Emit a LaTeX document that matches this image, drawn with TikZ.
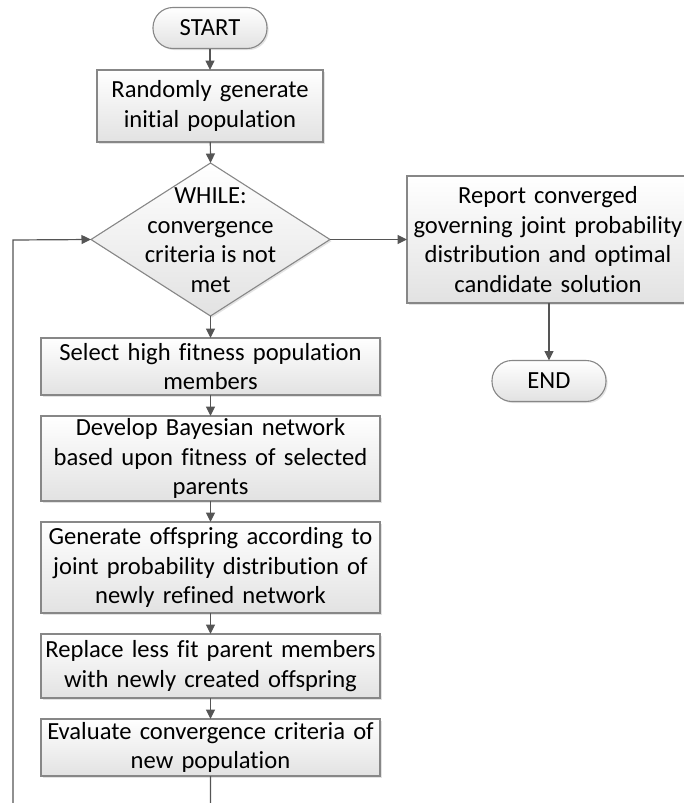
\documentclass[tikz,border=0pt]{standalone}
\usepackage{fontspec}
\setmainfont{Carlito}[Ligatures=NoCommon]
\usetikzlibrary{arrows.meta,shapes.geometric,shadows}
\definecolor{edgegray}{RGB}{135,135,135}
\definecolor{linegray}{RGB}{85,85,85}
\definecolor{boxbottom}{RGB}{226,226,226}
\begin{document}
\begin{tikzpicture}[x=1pt,y=-1pt,
  font=\fontsize{24.6}{29.5}\selectfont,
  every node/.style={outer sep=0pt},
  boxbase/.style={draw=edgegray, line width=1.1pt, top color=white, bottom color=boxbottom,
    drop shadow={shadow xshift=1.6pt, shadow yshift=-1.6pt, opacity=0.22}},
  procbox/.style={boxbase, rectangle, align=center, inner sep=0pt, text width=#1},
  terminal/.style={boxbase, rectangle, rounded corners=20pt, inner sep=0pt,
    minimum width=114pt, minimum height=41pt},
  decision/.style={boxbase, diamond, inner sep=0pt, minimum width=239pt, minimum height=153pt},
  flow/.style={draw=linegray, line width=1.2pt, -{Triangle[length=9.5pt,width=9pt]}}]

\useasboundingbox (0,0) rectangle (684,803);
\clip (0,0) rectangle (684,803);

% main column
\node[terminal] (start) at (210,28) {START};
\node[procbox=226pt, minimum height=72pt] (init) at (210,106) {Randomly generate\\initial population};
\node[decision] (dia) at (210.5,239.5) {};
\node[align=center] (diatext) at (210.5,240) {WHILE:\\convergence\\criteria is not\\met};
\node[procbox=339pt, minimum height=57pt] (select) at (210.5,366.5) {Select high fitness population\\members};
\node[procbox=339pt, minimum height=85pt] (develop) at (210.5,458.5) {Develop Bayesian network\\based upon fitness of selected\\parents};
\node[procbox=339pt, minimum height=91pt] (offspring) at (210.5,567.5) {Generate offspring according to\\joint probability distribution of\\newly refined network};
\node[procbox=339pt, minimum height=64pt] (replace) at (210.5,666) {Replace less fit parent members\\with newly created offspring};
\node[procbox=339pt, minimum height=57pt] (evaluate) at (210.5,747.5) {Evaluate convergence criteria of\\new population};

% exit branch
\node[procbox=282pt, minimum height=127pt] (report) at (548,239.5) {Report converged\\governing joint probability\\distribution and optimal\\candidate solution};
\node[terminal] (end) at (549,381) {END};

% connectors
\draw[flow] (start) -- (init);
\draw[flow] (init) -- (dia.north);
\draw[flow] (dia.east) -- (report.west);
\draw[flow] (report.south -| end.north) -- (end.north);
\draw[flow] (dia.south) -- (select);
\draw[flow] (select) -- (develop);
\draw[flow] (develop) -- (offspring);
\draw[flow] (offspring) -- (replace);
\draw[flow] (replace) -- (evaluate);

% loop back to the test
\coordinate (loopbase) at (210.5,840);
\coordinate (loopside) at (13,240);
\draw[flow] (evaluate.south) -- (loopbase) -| (loopside) -- (dia.west);
\end{tikzpicture}
\end{document}
